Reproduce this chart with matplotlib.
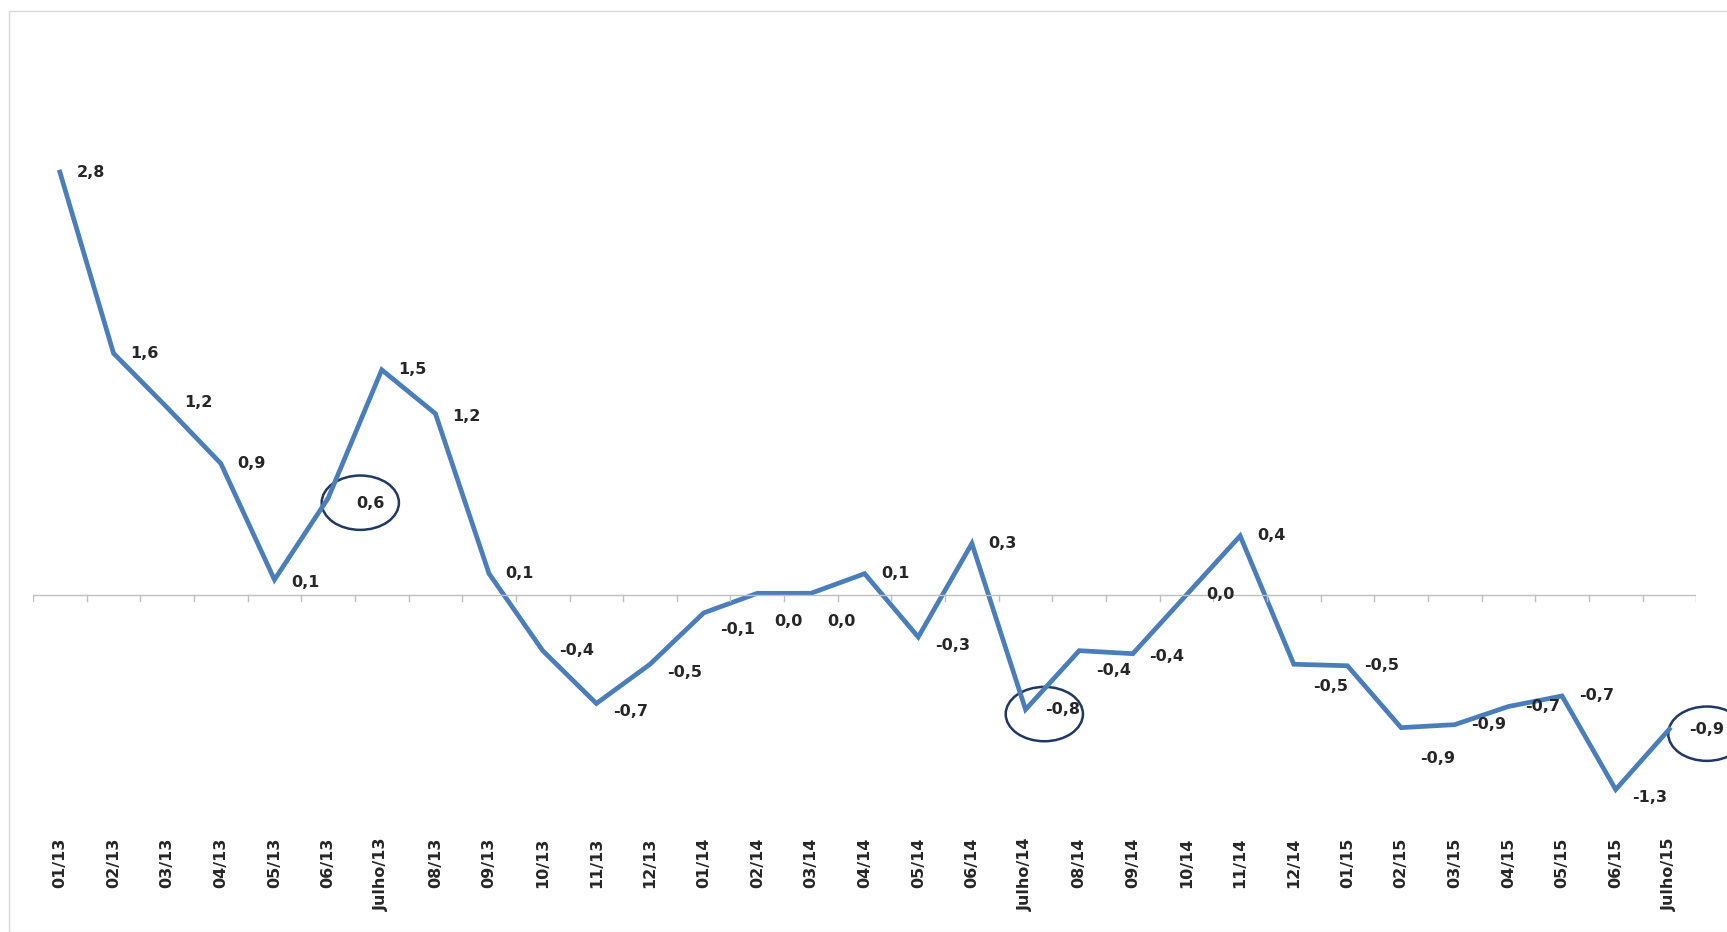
import matplotlib
matplotlib.use("Agg")
import matplotlib.pyplot as plt
from matplotlib.patches import Ellipse, Rectangle

categories = ["01/13","02/13","03/13","04/13","05/13","06/13","Julho/13","08/13","09/13","10/13","11/13","12/13",
              "01/14","02/14","03/14","04/14","05/14","06/14","Julho/14","08/14","09/14","10/14","11/14","12/14",
              "01/15","02/15","03/15","04/15","05/15","06/15","Julho/15"]
values = [2.8,1.6,1.24,0.87,0.1,0.64,1.49,1.2,0.14,-0.37,-0.72,-0.46,-0.12,0.01,0.01,0.14,-0.28,0.34,-0.76,
          -0.37,-0.39,0.0,0.39,-0.46,-0.47,-0.88,-0.86,-0.74,-0.67,-1.29,-0.89]
labels = ["2,8","1,6","1,2","0,9","0,1","0,6","1,5","1,2","0,1","-0,4","-0,7","-0,5","-0,1","0,0","0,0","0,1",
          "-0,3","0,3","-0,8","-0,4","-0,4","0,0","0,4","-0,5","-0,5","-0,9","-0,9","-0,7","-0,7","-1,3","-0,9"]
# label offsets in points (dx, dy)
offsets = {5: (20, -4), 18: (14, 0), 21: (14, 0), 13: (12, -20), 14: (12, -20), 12: (12, -12),
           23: (14, -16), 25: (14, -22), 30: (14, 0), 2: (12, 4), 3: (12, 0), 4: (12, -2),
           0: (12, 0), 1: (12, 0), 6: (12, 0), 7: (12, -2), 8: (12, 0), 15: (12, 0), 17: (12, 0), 22: (12, 0),
           9: (12, 0), 19: (12, -14), 20: (12, -2), 24: (12, 0), 26: (12, 0), 27: (12, 0), 28: (12, 0)}
circled = [5, 18, 30]
circle_dx = [0.6, 0.35, 0.7]

W, H = 1568, 846
fig = plt.figure(figsize=(17.27, 9.32), dpi=100)
ax = fig.add_axes([30/W, (H-740)/H, 1510/W, 640/H])
x = list(range(len(categories)))
ax.plot(x, values, color="#4a7ebb", lw=3.4, solid_joinstyle="miter")
ax.set_xlim(-0.5, len(categories) - 0.5)
ax.set_ylim(-1.46, 3.21)
for s in ["top", "right", "left", "bottom"]:
    ax.spines[s].set_visible(False)
ax.set_yticks([])
ax.set_xticks([])
ax.axhline(0, color="#bfbfbf", lw=1)
for i in range(len(categories) + 1):
    ax.plot([i - 0.5, i - 0.5], [0, -0.04], color="#bfbfbf", lw=1)

for i, (v, lab) in enumerate(zip(values, labels)):
    dx, dy = offsets.get(i, (12, -6 if v < 0 else 2))
    ax.annotate(lab, (i, v), xytext=(dx, dy), textcoords="offset points", ha="left",
                va="center", fontsize=11.5, fontweight="bold", color="#262626", annotation_clip=False)
    ax.text(i, -1.46 - 20/137, categories[i], rotation=90, ha="center", va="top", fontsize=11.5,
            fontweight="bold", color="#262626", clip_on=False)

for i, cdx in zip(circled, circle_dx):
    ax.add_patch(Ellipse((i + cdx, values[i] - 0.03), 1.44, 0.36, fill=False,
                         edgecolor="#1f3864", lw=1.8, clip_on=False))

fig.patches.append(Rectangle((8/W, 0.0), 1.2, 1 - 10/H, transform=fig.transFigure,
                             fill=False, edgecolor="#d9d9d9", lw=1))
fig.savefig("out.png", dpi=100)
